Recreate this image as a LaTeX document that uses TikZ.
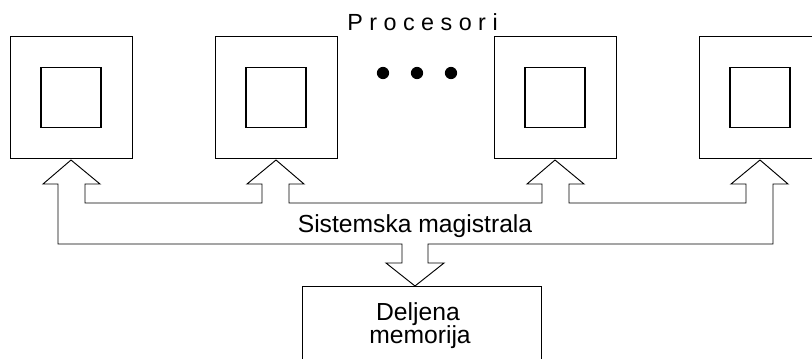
\documentclass[tikz,border=0pt]{standalone}
\usepackage{fontspec}
\setmainfont{Liberation Sans}
\begin{document}
\begin{tikzpicture}[x=0.75pt, y=-0.75pt, line join=miter,
    cpu/.style={draw, line width=0.6pt, minimum size=91.5pt, inner sep=0pt},
    core/.style={draw, line width=0.8pt, minimum size=45pt, inner sep=0pt},
    lbl/.style={font=\fontsize{18.5}{22}\selectfont, inner sep=0pt, anchor=base}]
    \useasboundingbox (0,0) rectangle (812,358);
    \clip (0,0) rectangle (812,358);
    % Processors
    \foreach \n/\x in {1/71, 2/276, 3/555, 4/760}{
        \node [cpu] (p\n) at (\x, 97.5) {};
        \node [core] (c\n) at (p\n.center) {};
    }
    \node [lbl, font=\fontsize{17.5}{20}\selectfont] (title) at (422.5, 30) {P r o c e s o r i};
    \foreach \x in {383, 417, 451}
        \fill (\x, 73) circle [radius=4.6pt];
    % Bus
    \draw [line width=0.7pt]
        (58, 244) -- (58, 184) -- (43, 184) -- (71, 160) -- (100, 184) -- (85, 184) -- (85, 203)
        -- (262, 203) -- (262, 184) -- (247, 184) -- (276, 160) -- (304, 184) -- (289, 184) -- (289, 203)
        -- (542, 203) -- (542, 184) -- (527, 184) -- (555, 160) -- (584, 184) -- (569, 184) -- (569, 203)
        -- (746, 203) -- (746, 184) -- (731, 184) -- (760, 160) -- (788, 184) -- (773, 184) -- (773, 244)
        -- (428, 244) -- (428, 263) -- (444, 263) -- (415, 286) -- (386, 263) -- (402, 263) -- (402, 244)
        -- cycle;
    \node [lbl] (bus) at (415, 232) {Sistemska magistrala};
    % Memory
    \node [draw, line width=0.6pt, anchor=north west, inner sep=0pt,
        minimum width=179.25pt, minimum height=75pt] (mem) at (302, 286) {};
    \node [lbl] (mem1) at (418, 320) {Deljena};
    \node [lbl] (mem2) at (420, 343) {memorija};
\end{tikzpicture}
\end{document}
